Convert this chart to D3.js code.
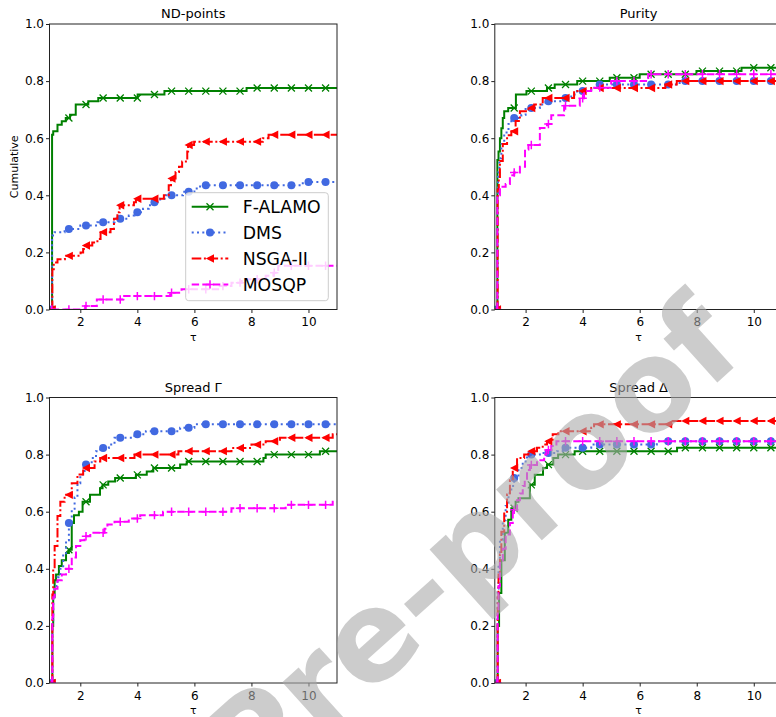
<!DOCTYPE html>
<html><head><meta charset="utf-8">
<script src="https://cdn.jsdelivr.net/npm/d3@7"></script>
<style>
body{margin:0;background:#fff}
svg{display:block}
text{font-family:"DejaVu Sans",sans-serif}
</style>
</head><body>
<svg id="chart" width="776" height="717"></svg>
<script>
// ---------- data ----------
const xTicks = [2, 4, 6, 8, 10];
const yTicks = [0, 0.2, 0.4, 0.6, 0.8, 1.0];
const markerTaus = [1.0, 1.6, 2.2, 2.8, 3.4, 4.0, 4.6, 5.2, 5.8, 6.4, 7.0, 7.6, 8.2, 8.8, 9.4, 10.0, 10.6];
const seriesNames = ["F-ALAMO", "DMS", "NSGA-II", "MOSQP"];
const panelTitles = ["ND-points", "Purity", "Spread Γ", "Spread Δ"];

// [tau, cumulative] step breakpoints
const ndFalamo = [[1,0],[1.01,0.612],[1.05,0.624],[1.2,0.647],[1.35,0.659],[1.49,0.671],[1.64,0.682],[1.84,0.718],[2.28,0.729],[2.63,0.741],[4.01,0.753],[4.95,0.765],[7.83,0.776],[11,0.776]];
const ndDms = [[1,0],[1.01,0.259],[1.1,0.271],[1.45,0.282],[2.0,0.294],[2.6,0.306],[3.2,0.318],[3.7,0.329],[3.9,0.341],[4.2,0.353],[4.4,0.365],[4.55,0.376],[4.8,0.388],[5.0,0.4],[5.6,0.412],[6.0,0.424],[6.2,0.435],[9.8,0.447],[11,0.447]];
const ndNsga = [[1,0],[1.02,0.141],[1.07,0.165],[1.2,0.176],[1.46,0.188],[2.01,0.2],[2.1,0.212],[2.18,0.224],[2.42,0.235],[2.6,0.247],[2.71,0.271],[3.06,0.282],[3.18,0.318],[3.3,0.341],[3.38,0.365],[3.88,0.376],[3.95,0.388],[4.93,0.4],[5.1,0.435],[5.18,0.459],[5.34,0.482],[5.46,0.5],[5.57,0.518],[5.75,0.553],[5.78,0.576],[5.99,0.588],[8.4,0.6],[8.6,0.612],[11,0.612]];
const ndMosqp = [[1,0],[2.17,0.012],[2.58,0.035],[3.5,0.047],[5.15,0.059],[5.55,0.071],[6.9,0.082],[7.3,0.094],[7.66,0.106],[8.5,0.118],[8.77,0.129],[8.94,0.153],[11,0.153]];

const purFalamo = [[1,0],[1.01,0.524],[1.05,0.553],[1.1,0.6],[1.15,0.635],[1.2,0.671],[1.25,0.694],[1.39,0.706],[1.66,0.753],[2.03,0.765],[2.75,0.776],[3.02,0.788],[3.81,0.8],[4.95,0.812],[6.0,0.824],[7.99,0.835],[9.57,0.847],[11,0.847]];
const purDms = [[1,0],[1.01,0.40],[1.03,0.48],[1.08,0.53],[1.15,0.58],[1.25,0.62],[1.4,0.65],[1.5,0.671],[1.85,0.682],[2.0,0.706],[2.5,0.718],[2.7,0.729],[3.35,0.741],[3.6,0.753],[3.8,0.765],[4.3,0.776],[4.5,0.788],[7.4,0.8],[11,0.8]];
const purNsga = [[1,0],[1.02,0.42],[1.06,0.46],[1.1,0.52],[1.2,0.58],[1.35,0.61],[1.5,0.624],[1.65,0.66],[1.8,0.694],[2.1,0.706],[2.3,0.718],[2.6,0.741],[3.7,0.765],[4.3,0.776],[6.9,0.788],[7.3,0.8],[11,0.8]];
const purMosqp = [[1,0],[1.01,0.40],[1.1,0.43],[1.3,0.44],[1.45,0.47],[1.6,0.48],[1.8,0.50],[1.98,0.56],[2.1,0.576],[2.5,0.636],[2.75,0.65],[2.9,0.68],[3.35,0.714],[3.9,0.74],[4.05,0.765],[4.3,0.777],[5.0,0.8],[6.3,0.824],[11,0.824]];

const sgFalamo = [[1,0],[1.02,0.2],[1.05,0.3],[1.1,0.36],[1.15,0.38],[1.25,0.41],[1.35,0.43],[1.5,0.455],[1.6,0.467],[1.7,0.56],[1.78,0.588],[1.95,0.6],[2.08,0.635],[2.34,0.659],[2.69,0.682],[2.78,0.694],[2.98,0.706],[3.22,0.718],[3.95,0.729],[4.33,0.741],[4.56,0.753],[5.5,0.765],[5.73,0.776],[8.42,0.788],[8.5,0.8],[10.4,0.812],[11,0.812]];
const sgDms = [[1,0],[1.02,0.22],[1.05,0.3],[1.1,0.34],[1.2,0.37],[1.3,0.4],[1.4,0.45],[1.5,0.5],[1.6,0.56],[1.7,0.61],[1.8,0.65],[1.9,0.7],[2.0,0.73],[2.15,0.765],[2.4,0.788],[2.55,0.812],[2.7,0.823],[3.0,0.835],[3.2,0.859],[3.9,0.871],[4.3,0.882],[5.5,0.894],[6.0,0.906],[11,0.906]];
const sgNsga = [[1,0],[1.02,0.31],[1.05,0.40],[1.1,0.48],[1.2,0.585],[1.3,0.635],[1.45,0.659],[1.7,0.70],[1.9,0.73],[2.1,0.753],[2.5,0.776],[2.7,0.788],[3.9,0.8],[5.44,0.812],[7.3,0.823],[8.0,0.835],[8.5,0.847],[9.0,0.859],[10.85,0.871],[11,0.871]];
const sgMosqp = [[1,0],[1.02,0.23],[1.05,0.3],[1.1,0.33],[1.2,0.36],[1.35,0.38],[1.5,0.40],[1.7,0.44],[1.85,0.48],[2.0,0.50],[2.15,0.514],[2.35,0.526],[2.85,0.54],[2.95,0.555],[3.2,0.565],[3.7,0.576],[4.1,0.588],[4.9,0.6],[7.3,0.612],[9.2,0.624],[10.85,0.635],[11,0.635]];

const sdFalamo = [[1,0],[1.02,0.2],[1.07,0.315],[1.15,0.43],[1.27,0.526],[1.39,0.572],[1.5,0.612],[1.65,0.635],[1.75,0.647],[2.15,0.694],[2.32,0.729],[2.61,0.753],[2.75,0.765],[2.97,0.788],[3.14,0.8],[3.72,0.812],[7.31,0.824],[11,0.824]];
const sdDms = [[1,0],[1.02,0.33],[1.05,0.42],[1.1,0.5],[1.2,0.57],[1.3,0.62],[1.4,0.665],[1.5,0.69],[1.6,0.718],[1.75,0.753],[1.9,0.776],[2.05,0.8],[2.5,0.806],[3.1,0.812],[3.3,0.824],[4.3,0.835],[6.6,0.847],[11,0.847]];
const sdNsga = [[1,0],[1.02,0.3],[1.05,0.38],[1.1,0.45],[1.15,0.53],[1.25,0.6],[1.35,0.66],[1.45,0.71],[1.55,0.753],[1.7,0.788],[1.95,0.8],[2.1,0.812],[2.4,0.824],[2.6,0.835],[2.75,0.847],[2.95,0.871],[3.15,0.882],[4.3,0.894],[4.4,0.906],[7.17,0.918],[11,0.918]];
const sdMosqp = [[1,0],[1.02,0.25],[1.05,0.34],[1.1,0.42],[1.2,0.47],[1.3,0.52],[1.45,0.56],[1.55,0.607],[1.7,0.64],[1.8,0.664],[1.9,0.69],[1.97,0.71],[2.05,0.746],[2.15,0.764],[2.4,0.78],[2.65,0.8],[2.73,0.816],[2.9,0.83],[3.08,0.847],[11,0.847]];

// ---------- layout / style ----------
const panels = [
  {title: panelTitles[0], series: [ndFalamo, ndDms, ndNsga, ndMosqp], x: 49.5, y: 24, ylabel: true, legend: true},
  {title: panelTitles[1], series: [purFalamo, purDms, purNsga, purMosqp], x: 494.8, y: 24},
  {title: panelTitles[2], series: [sgFalamo, sgDms, sgNsga, sgMosqp], x: 49.5, y: 397.5},
  {title: panelTitles[3], series: [sdFalamo, sdDms, sdNsga, sdMosqp], x: 494.8, y: 397.5}
];
const W = 287.5, H = 285.5;
const styles = [
  {color: "#008000", dash: null, marker: "x"},
  {color: "#4169e1", dash: "2,3.3", marker: "o"},
  {color: "#ff0000", dash: "9.6,2.6,2,2.6", marker: "<"},
  {color: "#ff00ff", dash: "7.4,3.2", marker: "+"}
];
const LW = 2;

const svg = d3.select("#chart");
svg.append("rect").attr("width", 776).attr("height", 717).attr("fill", "#fff");
const defs = svg.append("defs");

function drawMarker(sel, type, color) {
  if (type === "x") {
    sel.append("path").attr("d", "M-3.5,-3.5L3.5,3.5M-3.5,3.5L3.5,-3.5")
      .attr("stroke", color).attr("stroke-width", 1.3).attr("fill", "none");
  } else if (type === "o") {
    sel.append("circle").attr("r", 4).attr("fill", color);
  } else if (type === "<") {
    sel.append("path").attr("d", "M-4.2,0L4,-4.2L4,4.2Z").attr("fill", color);
  } else if (type === "+") {
    sel.append("path").attr("d", "M-4.2,0L4.2,0M0,-4.2L0,4.2")
      .attr("stroke", color).attr("stroke-width", 1.5).attr("fill", "none");
  }
}

function stepValue(data, t) {
  const i = d3.bisectRight(data.map(d => d[0]), t) - 1;
  return i < 0 ? 0 : data[i][1];
}

panels.forEach((p, pi) => {
  const g = svg.append("g").attr("transform", `translate(${p.x},${p.y})`);
  const x = d3.scaleLinear().domain([0.92, 11]).range([0, W]);
  const y = d3.scaleLinear().domain([0, 1]).range([H, 0]);

  const clipId = "clip" + pi;
  defs.append("clipPath").attr("id", clipId).append("rect").attr("width", W).attr("height", H);

  const plot = g.append("g").attr("clip-path", `url(#${clipId})`);
  const line = d3.line().x(d => x(d[0])).y(d => y(d[1])).curve(d3.curveStepAfter);

  p.series.forEach((data, si) => {
    const st = styles[si];
    plot.append("path").datum(data).attr("d", line)
      .attr("fill", "none").attr("stroke", st.color).attr("stroke-width", LW)
      .attr("stroke-dasharray", st.dash).attr("stroke-linejoin", "miter");
    markerTaus.forEach(t => {
      const m = plot.append("g").attr("transform", `translate(${x(t)},${y(stepValue(data, t))})`);
      drawMarker(m, st.marker, st.color);
    });
  });

  // axes
  const xa = g.append("g").attr("transform", `translate(0,${H})`)
    .call(d3.axisBottom(x).tickValues(xTicks).tickFormat(d3.format("d")).tickSize(3.5).tickSizeOuter(0).tickPadding(4.5));
  const ya = g.append("g")
    .call(d3.axisLeft(y).tickValues(yTicks).tickFormat(d3.format(".1f")).tickSize(3.5).tickSizeOuter(0).tickPadding(2));
  [xa, ya].forEach(a => {
    a.select(".domain").remove();
    a.selectAll("line").attr("stroke", "#222").attr("stroke-width", 1);
    a.selectAll("text").attr("font-size", 12).attr("font-family", "DejaVu Sans").style("fill", "#000");
  });
  // spines
  g.append("rect").attr("x", 0).attr("y", 0).attr("width", W).attr("height", H)
    .attr("fill", "none").attr("stroke", "#222").attr("stroke-width", 1);

  // title
  g.append("text").attr("x", W / 2).attr("y", -6).attr("text-anchor", "middle")
    .attr("font-size", 13).style("fill", "#000").text(p.title);
  // x label
  g.append("text").attr("x", W / 2).attr("y", H + 31).attr("text-anchor", "middle")
    .attr("font-size", 11).style("fill", "#000").text("τ");
  if (p.ylabel) {
    g.append("text").attr("transform", `translate(${14 - p.x},${H / 2}) rotate(-90)`)
      .attr("text-anchor", "middle").attr("dy", "0.35em").attr("font-size", 11)
      .style("fill", "#000").text("Cumulative");
  }
  if (p.legend) {
    const lg = g.append("g").attr("transform", `translate(${185.7 - p.x},${192.7 - p.y})`);
    lg.append("rect").attr("width", 142.6).attr("height", 108).attr("rx", 3)
      .attr("fill", "#fff").attr("fill-opacity", 0.8).attr("stroke", "#cccccc").attr("stroke-width", 1);
    seriesNames.forEach((name, i) => {
      const ry = 14 + i * 25.9;
      const st = styles[i];
      lg.append("line").attr("x1", 6).attr("x2", 42.6).attr("y1", ry).attr("y2", ry)
        .attr("stroke", st.color).attr("stroke-width", LW).attr("stroke-dasharray", st.dash);
      drawMarker(lg.append("g").attr("transform", `translate(24.3,${ry})`), st.marker, st.color);
      lg.append("text").attr("x", 57).attr("y", ry).attr("dy", "0.36em")
        .attr("font-size", 17.3).style("fill", "#000").text(name);
    });
  }
});

// watermark (semi-transparent grey text over the figure)
svg.append("text")
  .attr("transform", "translate(500,578) rotate(-42)")
  .attr("text-anchor", "middle")
  .attr("font-family", "Liberation Sans, Arial, sans-serif")
  .attr("font-weight", "bold")
  .attr("font-size", 125)
  .style("fill", "rgb(170,170,170)")
  .style("fill-opacity", 0.6)
  .text("Pre-proof");
</script>
</body></html>
